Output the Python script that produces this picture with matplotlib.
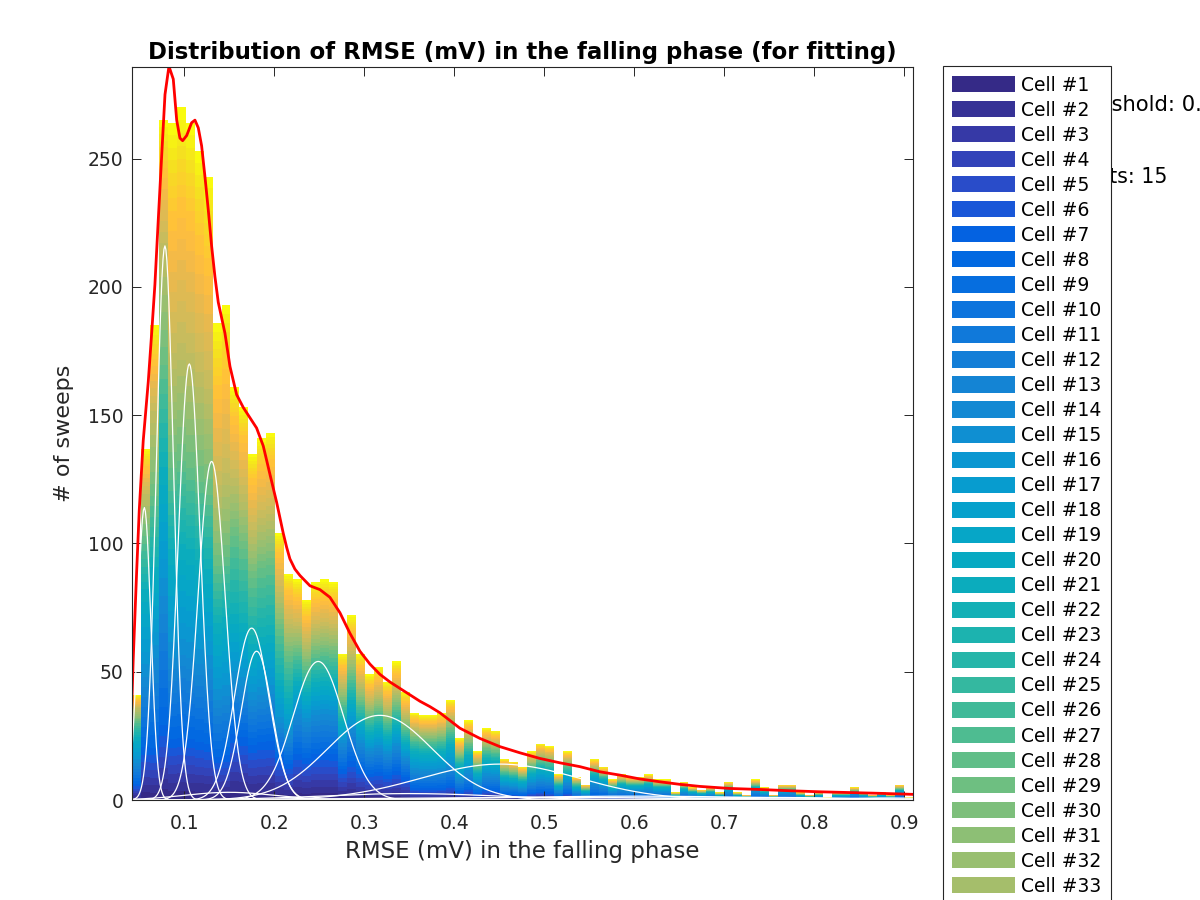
import numpy as np
import matplotlib
matplotlib.use('Agg')
import matplotlib.pyplot as plt
from matplotlib.colors import LinearSegmentedColormap

# histogram bins of RMSE (mV)
bin_left = 0.0416
bin_width = 0.00998
sweep_counts = [41, 137, 185, 265, 264, 270, 264, 253, 243, 186,
                193, 161, 153, 135, 141, 143, 104, 88, 86, 78,
                85, 86, 85, 57, 72, 57, 49, 52, 46, 54,
                42, 34, 33, 33, 34, 39, 24, 31, 19, 28,
                27, 16, 15, 13, 19, 22, 21, 10, 19, 9,
                6, 16, 13, 8, 10, 9, 9, 10, 8, 8,
                3, 7, 5, 4, 5, 3, 7, 3, 2, 8,
                5, 2, 6, 6, 3, 2, 3, 1, 3, 3,
                5, 3, 2, 3, 2, 6, 1]

n_cells = 49
# share of each bar held by cells #1-7, #8-14, ... #43-49 (bottom to top),
# keyed by the first bin where that mix starts
group_share = {
    0: [0.15, 0.20, 0.25, 0.15, 0.12, 0.08, 0.05],
    2: [0.11, 0.19, 0.19, 0.15, 0.18, 0.11, 0.07],
    4: [0.09, 0.12, 0.16, 0.12, 0.17, 0.21, 0.13],
    11: [0.16, 0.13, 0.16, 0.19, 0.14, 0.15, 0.07],
    18: [0.21, 0.18, 0.15, 0.13, 0.12, 0.13, 0.08],
    31: [0.14, 0.20, 0.22, 0.14, 0.12, 0.11, 0.07],
    51: [0.12, 0.28, 0.22, 0.10, 0.10, 0.10, 0.08],
}

# gaussian components of the fit (white)
comp_mean = [0.0556, 0.0785, 0.1056, 0.1304, 0.1749, 0.1804, 0.2489, 0.3174,
             0.4510, 0.6000, 0.3500, 0.7500, 0.1500, 0.8800, 0.5000]
comp_sd = [0.0073, 0.0095, 0.0120, 0.0150, 0.0190, 0.0170, 0.0280, 0.0580,
           0.0880, 0.1500, 0.1000, 0.1000, 0.0500, 0.0500, 0.2000]
comp_peak = [114, 216, 170, 132, 67, 58, 54, 33, 14, 1.5, 2.5, 1.0, 3.0, 0.8, 1.0]

# total fit (red)
fit_x = [0.0416, 0.0433, 0.0452, 0.0471, 0.0500, 0.0544, 0.0600, 0.0638, 0.0674, 0.0711,
         0.0749, 0.0786, 0.0830, 0.0878, 0.0916, 0.0952, 0.0982, 0.1027, 0.1082, 0.1119,
         0.1156, 0.1193, 0.1230, 0.1267, 0.1304, 0.1341, 0.1378, 0.1452, 0.1508, 0.1582,
         0.1656, 0.1730, 0.1804, 0.1878, 0.1952, 0.2027, 0.2100, 0.2138, 0.2174, 0.2230,
         0.2286, 0.2397, 0.2508, 0.2619, 0.2730, 0.2841, 0.2952, 0.3063, 0.3174, 0.3286,
         0.3397, 0.3508, 0.3619, 0.3730, 0.3841, 0.4063, 0.4286, 0.4508, 0.4730, 0.4952,
         0.5174, 0.5397, 0.5619, 0.5841, 0.6063, 0.6286, 0.6508, 0.6730, 0.7063, 0.7397,
         0.7730, 0.8063, 0.8397, 0.8730, 0.9097]
fit_y = [36, 55, 72, 89, 113, 140, 163, 182, 201, 226,
         251, 275, 286, 281, 265, 258, 257, 259, 264, 265,
         262, 255, 243, 230, 216, 204, 194, 182, 169, 158,
         153, 149, 145, 138, 127, 116, 104, 98.5, 94, 90,
         87.5, 83.5, 82, 79, 73, 65, 58, 53, 49, 46,
         43.5, 41, 38.5, 36.4, 34, 28, 24, 20.8, 18.4, 16.2,
         14.5, 13, 11, 9.7, 8.2, 7.1, 6.1, 5.3, 4.5, 4.1,
         3.6, 3.2, 2.9, 2.6, 2.2]

# MATLAB parula, 64 entries
parula64 = [
    [0.2081, 0.1663, 0.5292], [0.2116, 0.1898, 0.5777], [0.2123, 0.2138, 0.6270], [0.2081, 0.2386, 0.6771],
    [0.1959, 0.2645, 0.7279], [0.1707, 0.2919, 0.7792], [0.1253, 0.3242, 0.8303], [0.0591, 0.3598, 0.8683],
    [0.0117, 0.3875, 0.8820], [0.0060, 0.4086, 0.8828], [0.0165, 0.4266, 0.8786], [0.0329, 0.4430, 0.8720],
    [0.0498, 0.4586, 0.8641], [0.0629, 0.4737, 0.8554], [0.0723, 0.4887, 0.8467], [0.0779, 0.5040, 0.8384],
    [0.0793, 0.5200, 0.8312], [0.0749, 0.5375, 0.8263], [0.0641, 0.5570, 0.8240], [0.0488, 0.5772, 0.8228],
    [0.0343, 0.5966, 0.8199], [0.0265, 0.6137, 0.8135], [0.0239, 0.6287, 0.8038], [0.0231, 0.6418, 0.7913],
    [0.0228, 0.6535, 0.7768], [0.0267, 0.6642, 0.7607], [0.0384, 0.6743, 0.7436], [0.0590, 0.6838, 0.7254],
    [0.0843, 0.6928, 0.7062], [0.1133, 0.7015, 0.6859], [0.1453, 0.7098, 0.6646], [0.1801, 0.7177, 0.6424],
    [0.2178, 0.7250, 0.6193], [0.2586, 0.7317, 0.5954], [0.3022, 0.7376, 0.5712], [0.3482, 0.7424, 0.5473],
    [0.3953, 0.7459, 0.5244], [0.4420, 0.7481, 0.5033], [0.4871, 0.7491, 0.4840], [0.5300, 0.7491, 0.4661],
    [0.5709, 0.7485, 0.4494], [0.6099, 0.7473, 0.4337], [0.6473, 0.7456, 0.4188], [0.6834, 0.7435, 0.4044],
    [0.7184, 0.7411, 0.3905], [0.7525, 0.7384, 0.3768], [0.7858, 0.7356, 0.3633], [0.8185, 0.7327, 0.3498],
    [0.8507, 0.7299, 0.3360], [0.8824, 0.7274, 0.3217], [0.9139, 0.7258, 0.3063], [0.9450, 0.7261, 0.2886],
    [0.9739, 0.7314, 0.2666], [0.9938, 0.7455, 0.2403], [0.9990, 0.7653, 0.2164], [0.9955, 0.7861, 0.1967],
    [0.9880, 0.8066, 0.1794], [0.9789, 0.8271, 0.1633], [0.9697, 0.8481, 0.1475], [0.9626, 0.8705, 0.1309],
    [0.9589, 0.8949, 0.1132], [0.9598, 0.9218, 0.0948], [0.9661, 0.9514, 0.0755], [0.9763, 0.9831, 0.0538]]
parula = LinearSegmentedColormap.from_list('parula', parula64)
cell_colors = parula(np.linspace(0, 1, n_cells))

dark = (0.15, 0.15, 0.15)
fig = plt.figure(figsize=(12, 9), dpi=100)
ax = fig.add_axes([0.10975, 0.11111, 0.65108, 0.81411])

nb = len(sweep_counts)
edges = bin_left + bin_width * np.arange(nb + 1)
counts = np.array(sweep_counts, dtype=float)
starts = sorted(group_share)
share = np.zeros((nb, 7))
for i in range(nb):
    key = max(s for s in starts if s <= i)
    row = np.array(group_share[key])
    share[i] = row / row.sum()

per_group = 7
bottom = np.zeros(nb)
for c in range(n_cells):
    h = counts * share[:, c // per_group] / per_group
    ax.bar(edges[:-1], h, width=bin_width, bottom=bottom, align='edge',
           color=cell_colors[c], linewidth=0, label='Cell #%d' % (c + 1))
    bottom += h

xs = np.linspace(edges[0], edges[-1], 800)
for mu, sd, pk in zip(comp_mean, comp_sd, comp_peak):
    ax.plot(xs, pk * np.exp(-0.5 * ((xs - mu) / sd) ** 2), color='white', lw=0.9)

ax.plot(fit_x, fit_y, color='red', lw=2)

ax.set_xlim(edges[0], edges[-1])
ax.set_ylim(0, 285.6)
ax.set_xticks(np.arange(0.1, 0.91, 0.1))
ax.set_xticklabels(['%.1f' % t for t in np.arange(0.1, 0.91, 0.1)])
ax.set_yticks(np.arange(0, 251, 50))
ax.tick_params(direction='in', length=6.5, width=0.7, top=True, right=True,
               labelsize=13.5, color=dark, labelcolor=dark, pad=6)
ax.tick_params(axis='x', pad=10)
for s in ax.spines.values():
    s.set_color(dark)
    s.set_linewidth(0.8)

ax.set_title('Distribution of RMSE (mV) in the falling phase (for fitting)',
             fontsize=16.5, fontweight='bold', pad=6)
ax.set_xlabel('RMSE (mV) in the falling phase', fontsize=16.5, color=dark, labelpad=5)
ax.set_ylabel('# of sweeps', fontsize=16, color=dark, labelpad=10)

# text box that sits behind the legend
fig.text(0.8867, 0.8833, 'Threshold: 0.05', fontsize=15.2, va='center', ha='left')
fig.text(0.8316, 0.8037, 'Components: 15', fontsize=14.8, va='center', ha='left')

handles, labels = ax.get_legend_handles_labels()
leg = fig.legend(handles, labels, loc='upper left', bbox_to_anchor=(0.7858, 0.9265),
                 fontsize=13.5, handlelength=3.35, handleheight=0.96, handletextpad=0.3,
                 labelspacing=0.322, borderpad=0.5, borderaxespad=0, fancybox=False,
                 framealpha=1, edgecolor=dark)
leg.get_frame().set_linewidth(0.8)

fig.savefig('out.png', dpi=100)
